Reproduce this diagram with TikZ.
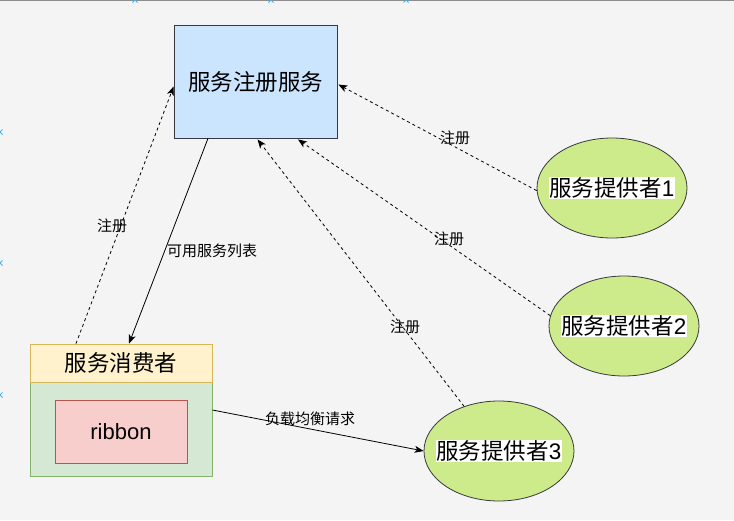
\documentclass[tikz,border=0pt]{standalone}
\usepackage{fontspec}
\setmainfont{Noto Sans CJK SC}
\newfontfamily\latn{Liberation Sans}
\usetikzlibrary{arrows.meta,shapes.geometric}
\definecolor{bgc}{HTML}{F4F4F4}
\definecolor{regfill}{HTML}{CCE5FF}
\definecolor{regdraw}{HTML}{36393D}
\definecolor{hdrfill}{HTML}{FFF2CC}
\definecolor{hdrdraw}{HTML}{D6B656}
\definecolor{bodyfill}{HTML}{D5E8D4}
\definecolor{bodydraw}{HTML}{82B366}
\definecolor{ribfill}{HTML}{F8CECC}
\definecolor{ribdraw}{HTML}{B85450}
\definecolor{provfill}{HTML}{CDEB8B}
\definecolor{provdraw}{HTML}{36393D}
\definecolor{markc}{HTML}{3FB0F0}
\begin{document}
\begin{tikzpicture}[x=1pt,y=-1pt,
  box/.style={draw, rectangle, inner sep=0pt, line width=0.8pt},
  prov/.style={draw=provdraw, fill=provfill, ellipse, inner sep=0pt, line width=0.8pt, minimum width=150pt, minimum height=100pt},
  big/.style={font=\fontsize{22.5}{26}\selectfont, inner sep=0pt},
  provtxt/.style={big, fill=white, inner sep=0.5pt},
  lbl/.style={font=\fontsize{15}{18}\selectfont, inner sep=0pt},
  conn/.style={line width=0.8pt, -{Stealth[length=9pt,width=7pt,inset=2.5pt]}},
  dconn/.style={conn, dash pattern=on 3pt off 3pt},
  gridmark/.style={draw=markc, line width=0.9pt}
]
\fill[bgc] (0,0) rectangle (734,520);
\useasboundingbox (0,0) rectangle (734,520);
\draw[color=black!45, line width=1.4pt] (0,0.7) -- (734,0.7);
\foreach \p in {135,271,406} {\draw[gridmark] (\p-2.5,-2.5) -- (\p+2.5,2.5) (\p-2.5,2.5) -- (\p+2.5,-2.5);}
\foreach \p in {132,263,395} {\draw[gridmark] (-2.5,\p-2.5) -- (2.5,\p+2.5) (-2.5,\p+2.5) -- (2.5,\p-2.5);}

\node[box, draw=regdraw, fill=regfill, minimum width=163pt, minimum height=113pt, big] (reg) at (255.5,81.5) {服务注册服务};
\node[box, draw=bodydraw, fill=bodyfill, minimum width=182pt, minimum height=94pt] (consb) at (121,429) {};
\node[box, draw=hdrdraw, fill=hdrfill, minimum width=182pt, minimum height=38pt, big] (consh) at (121,363) {服务消费者};
\node[box, draw=ribdraw, fill=ribfill, minimum width=132pt, minimum height=63pt, font=\latn\fontsize{22}{26}\selectfont, inner sep=0pt] (rib) at (121,431.5) {ribbon};

\node[prov] (p1) at (612,188) {};
\node[provtxt] (t1) at (p1.center) {服务提供者{\latn 1}};
\node[prov] (p2) at (624,326) {};
\node[provtxt] (t2) at (p2.center) {服务提供者{\latn 2}};
\node[prov] (p3) at (499,451) {};
\node[provtxt] (t3) at (p3.center) {服务提供者{\latn 3}};

\draw[dconn] ([xshift=-45pt]consh.north) -- ([yshift=-5pt]reg.west);
\draw[conn] ([xshift=-47.5pt]reg.south) -- ([xshift=8pt]consh.north);
\draw[dconn] (p1.182) -- ([yshift=-3pt,xshift=1pt]reg.east);
\draw[dconn] (p2.172) -- ([xshift=42.5pt,yshift=-1pt]reg.south);
\draw[dconn] (p3.128) -- ([xshift=2pt,yshift=-1pt]reg.south);
\draw[conn] ([yshift=19pt]consb.east) -- (p3.west);

\node[lbl] (l1) at (112,226) {注册};
\node[lbl] (l2) at (212,251) {可用服务列表};
\node[lbl] (l3) at (455,138) {注册};
\node[lbl] (l4) at (449,239) {注册};
\node[lbl] (l5) at (405,327) {注册};
\node[lbl] (l6) at (310,419) {负载均衡请求};
\end{tikzpicture}
\end{document}
